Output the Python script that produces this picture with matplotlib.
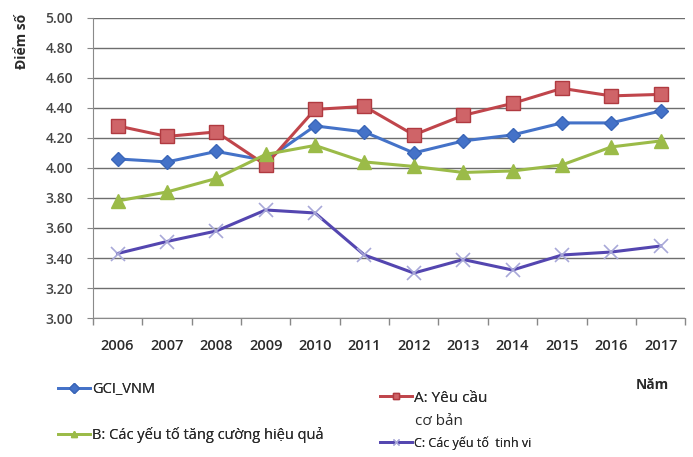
import matplotlib.pyplot as plt
from matplotlib.lines import Line2D

years = ['2006', '2007', '2008', '2009', '2010', '2011',
         '2012', '2013', '2014', '2015', '2016', '2017']
gci_vnm = [4.06, 4.04, 4.11, 4.05, 4.28, 4.24, 4.10, 4.18, 4.22, 4.30, 4.30, 4.38]
basic_req = [4.28, 4.21, 4.24, 4.02, 4.39, 4.41, 4.22, 4.35, 4.43, 4.53, 4.48, 4.49]
efficiency = [3.78, 3.84, 3.93, 4.09, 4.15, 4.04, 4.01, 3.97, 3.98, 4.02, 4.14, 4.18]
sophistication = [3.43, 3.51, 3.58, 3.72, 3.70, 3.42, 3.30, 3.39, 3.32, 3.42, 3.44, 3.48]
y_ticks = [3.0, 3.2, 3.4, 3.6, 3.8, 4.0, 4.2, 4.4, 4.6, 4.8, 5.0]

c_blue = '#4472c8'
c_red = '#c0454b'
c_green = '#9bbb48'
c_purple = '#5446b0'
text_col = '#2a2a2a'

plt.rcParams['font.family'] = ['Open Sans', 'DejaVu Sans']

fig = plt.figure(figsize=(6.93, 4.57), dpi=100)
ax = fig.add_axes([0.134, 0.304, 0.855, 0.657])

x = range(len(years))
l_gci, = ax.plot(x, gci_vnm, color=c_blue, lw=2.2, marker='D', ms=7,
                 mfc=c_blue, mec='#3a66b8', label='GCI_VNM', zorder=4)
l_a, = ax.plot(x, basic_req, color=c_red, lw=2.2, marker='s', ms=10,
               mfc='#cf6468', mec='#b03a40', label='A: Yêu cầu', zorder=4)
l_b, = ax.plot(x, efficiency, color=c_green, lw=2.2, marker='^', ms=10,
               mfc=c_green, mec=c_green, label='B: Các yếu tố tăng cường hiệu quả', zorder=4)
l_c, = ax.plot(x, sophistication, color=c_purple, lw=2.2, marker='x', ms=10,
               mec='#a8a8d8', mew=1.2, label='C: Các yếu tố  tinh vi', zorder=4)

ax.set_xlim(-0.5, len(years) - 0.5)
ax.set_ylim(3.0, 5.0)
ax.set_yticks(y_ticks)
ax.set_yticklabels([f'{v:.2f}' for v in y_ticks])
# tick marks between categories, labels centred on each year
ax.set_xticks([i - 0.5 for i in range(len(years) + 1)])
ax.set_xticklabels([])
ax.set_xticks(list(x), minor=True)
ax.set_xticklabels(years, minor=True)
ax.tick_params(axis='x', which='major', length=5, color='#888888', width=1)
ax.tick_params(axis='x', which='minor', length=0, pad=15,
               labelsize=10.5, labelcolor=text_col)
ax.tick_params(axis='y', length=4, color='#888888', pad=10,
               labelsize=10, labelcolor='#444444')
for lab in ax.get_xticklabels(minor=True) + ax.get_yticklabels():
    lab.set_fontweight('semibold')

ax.grid(axis='y', color='#6e6e6e', lw=1)
ax.set_axisbelow(True)
for side in ['top', 'right']:
    ax.spines[side].set_visible(False)
ax.spines['left'].set_color('#8a8a8a')
ax.spines['bottom'].set_color('#8a8a8a')

fig.text(0.032, 0.97, 'Điểm số', rotation=90, ha='center', va='top',
         fontsize=10, fontweight='bold', color=text_col)
fig.text(0.941, 0.158, 'Năm', ha='center', va='center',
         fontsize=10, fontweight='bold', color=text_col)

# each legend entry sits at its own spot below the axes
entries = [
    (l_gci, (0.084, 0.147), 10.5),
    (l_a, (0.548, 0.129), 11),
    (l_b, (0.084, 0.048), 10.5),
    (l_c, (0.548, 0.031), 9),
]
for handle, pos, fs in entries:
    h = Line2D([], [], color=handle.get_color(), lw=2, marker=handle.get_marker(),
               ms=5, mfc=handle.get_markerfacecolor(), mec=handle.get_markeredgecolor())
    leg = fig.legend([h], [handle.get_label()], loc='center left', bbox_to_anchor=pos,
                     frameon=False, fontsize=fs, handlelength=32 / (fs * 1.39),
                     handletextpad=0.15, borderaxespad=0, borderpad=0,
                     labelcolor=text_col)
    fig.add_artist(leg)
fig.text(0.599, 0.077, 'cơ bản', ha='left', va='center', fontsize=11, color=text_col)

fig.savefig('out.png', dpi=100)
